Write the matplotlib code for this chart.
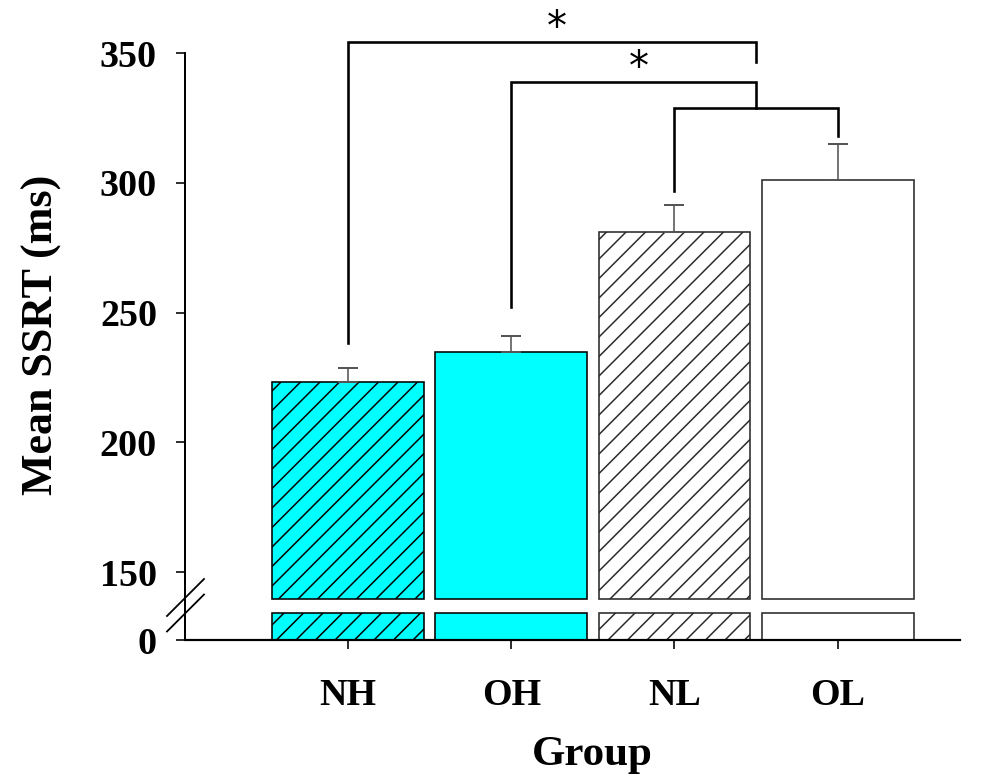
import matplotlib
matplotlib.use("Agg")
import matplotlib.pyplot as plt
import numpy as np

groups = ["NH", "OH", "NL", "OL"]
means = [223.3, 235.0, 281.0, 301.0]
sems = [5.5, 6.0, 10.5, 14.0]
face_colors = ["#00FFFF", "#00FFFF", "white", "white"]
hatches = ["//", "", "//", ""]
edge_colors = ["black", "black", "#2a2a2a", "#2a2a2a"]

# significance brackets: (left x, left leg bottom, right x, right leg bottom, bar height, label)
brackets = [
    (0.0, 238.5, 2.5, 346.5, 354.2, "*"),
    (1.0, 252.0, 2.5, 329.0, 338.8, "*"),
    (2.0, 297.0, 3.0, 318.0, 329.0, ""),
]

upper_ticks = [150, 200, 250, 300, 350]
upper_ylim = (137.3, 350)
break_low = 139.6
lower_ylim = (0, 13)
lower_bar_height = 10

DPI = 117
W, H = 1003, 778


def P(px):
    """pixels -> points"""
    return px * 72.0 / DPI


plt.rcParams["font.family"] = ["Liberation Serif", "DejaVu Serif"]
plt.rcParams["font.weight"] = "bold"
plt.rcParams["hatch.linewidth"] = P(1.5)

fig = plt.figure(figsize=(W / DPI, H / DPI), dpi=DPI)

left = 185 / W
width = (960 - 185) / W
ax_up = fig.add_axes([left, (H - 605) / H, width, (605 - 53.3) / H])
ax_lo = fig.add_axes([left, (H - 640) / H, width, (640 - 605) / H])

x = np.arange(len(groups))
bw = 0.93

for i in range(len(groups)):
    ax_up.bar(x[i], means[i] - break_low, bottom=break_low, width=bw,
              color=face_colors[i], edgecolor=edge_colors[i], hatch=hatches[i],
              linewidth=P(1.6), zorder=2)
    ax_lo.bar(x[i], lower_bar_height, width=bw,
              color=face_colors[i], edgecolor=edge_colors[i], hatch=hatches[i],
              linewidth=P(1.6), zorder=2)

ax_up.errorbar(x, means, yerr=[np.zeros(len(sems)), sems], fmt="none",
               ecolor="#555555", elinewidth=P(1.6), capsize=P(10), capthick=P(2.0),
               zorder=3, clip_on=False)

for (x1, y1, x2, y2, yt, lab) in brackets:
    ax_up.plot([x1, x1, x2, x2], [y1, yt, yt, y2], color="black", lw=P(2.6),
               solid_joinstyle="miter", zorder=4, clip_on=False)
    if lab:
        ax_up.text((x1 + x2) / 2 + 0.03, yt + 0.8, lab, ha="center", va="baseline",
                   fontsize=P(40), fontweight="normal", family="DejaVu Sans")

xlim = (-1.0, 3.75)
ax_up.set_xlim(*xlim)
ax_lo.set_xlim(*xlim)
ax_up.set_ylim(*upper_ylim)
ax_lo.set_ylim(*lower_ylim)

for a in (ax_up, ax_lo):
    a.spines["top"].set_visible(False)
    a.spines["right"].set_visible(False)
    a.spines["left"].set_linewidth(P(2.0))
    a.tick_params(axis="y", direction="out", length=P(9), width=P(1.6),
                  labelsize=P(38), pad=P(19))
ax_up.spines["bottom"].set_visible(False)
ax_up.set_xticks([])
ax_up.set_yticks(upper_ticks)
ax_up.set_yticklabels([str(t) for t in upper_ticks])

ax_lo.spines["bottom"].set_linewidth(P(2.2))
ax_lo.set_yticks([0])
ax_lo.set_yticklabels(["0"])
ax_lo.set_xticks(x)
ax_lo.set_xticklabels(groups)
ax_lo.tick_params(axis="x", direction="out", length=P(9), width=P(1.6),
                  labelsize=P(38), pad=P(29))

for lab in ax_up.get_yticklabels() + ax_lo.get_yticklabels() + ax_lo.get_xticklabels():
    lab.set_fontweight("bold")

fig.text(592 / W, 1 - 736 / H, "Group", ha="center", va="top",
         fontsize=P(43), fontweight="bold")
fig.text(42 / W, 1 - 335 / H, "Mean SSRT (ms)", rotation=90, ha="center", va="center",
         fontsize=P(44), fontweight="bold")

# axis break marks
for dy in (0, 15.5):
    fig.add_artist(plt.Line2D([167 / W, 204 / W], [1 - (616 + dy) / H, 1 - (579 + dy) / H],
                              transform=fig.transFigure, color="black", lw=P(1.8)))

fig.savefig("out.png", dpi=DPI)
